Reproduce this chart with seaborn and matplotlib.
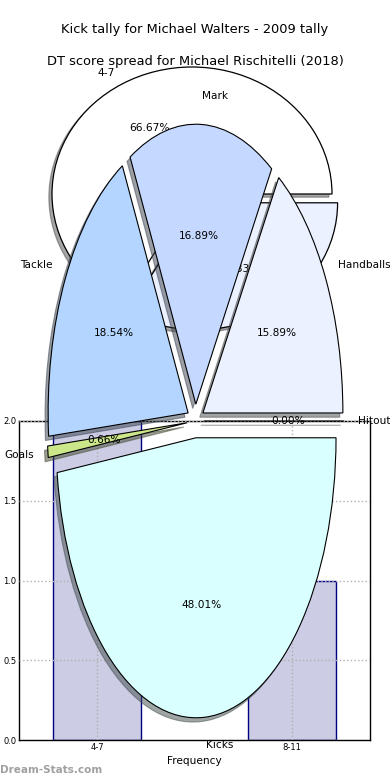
import matplotlib
matplotlib.use('Agg')
import matplotlib.pyplot as plt
import seaborn as sns

# ---- data ----
kick_bins = ['4-7', '8-11']
kick_counts = [2, 1]
kick_pie_colors = ['#FFFFFF', '#EBF1FF']

dt_labels = ['Handballs', 'Mark', 'Tackle', 'Goals', 'Kicks', 'Hitout']
dt_shares = [15.89, 16.89, 18.54, 0.66, 48.01, 0.00]
dt_colors = ['#EBF1FF', '#C5D8FF', '#B3D5FF', '#CCE68A', '#D9FFFF', '#FFFFFF']

title_kick = 'Kick tally for Michael Walters - 2009 tally'
title_dt = 'DT score spread for Michael Rischitelli (2018)'

sns.set_style('white')
plt.rcParams['font.family'] = ['DejaVu Sans']
plt.rcParams['text.color'] = 'black'
plt.rcParams['axes.labelcolor'] = 'black'
plt.rcParams['xtick.color'] = 'black'
plt.rcParams['ytick.color'] = 'black'

W, H = 390, 780
fig = plt.figure(figsize=(W / 100, H / 100), dpi=100)

# ---- bar chart (bottom layer) ----
ax_bar = fig.add_axes([19.3 / W, 40 / H, 350.7 / W, 319 / H])
sns.barplot(x=kick_bins, y=kick_counts, width=0.45, color='#CCCCE5',
            saturation=1, edgecolor='#000080', linewidth=1,
            errorbar=None, ax=ax_bar)
ax_bar.set_xlim(-0.4, 1.4)
ax_bar.set_ylim(0, 2.0)
ax_bar.set_yticks([0.0, 0.5, 1.0, 1.5, 2.0])
ax_bar.set_xlabel('Frequency', fontsize=7.6, labelpad=3)
ax_bar.set_ylabel('')
ax_bar.tick_params(labelsize=6, direction='in', length=2, pad=2)
ax_bar.set_axisbelow(False)
ax_bar.grid(True, linestyle=':', color='#b0b0b0', linewidth=1)
for s in ax_bar.spines.values():
    s.set_color('black')
    s.set_linewidth(1)
    s.set_visible(True)

# ---- kick tally pie ----
ax_k = fig.add_axes([17 / W, (H - 352.75) / H, 350 / W, 317.5 / H])
ax_k.pie(kick_counts, labels=kick_bins, colors=kick_pie_colors,
         explode=(0, 0.08), shadow={'ox': -0.016, 'oy': -0.018},
         autopct='%.2f%%',
         wedgeprops={'edgecolor': 'black', 'linewidth': 0.9},
         textprops={'fontsize': 7.7})
ax_k.set_aspect('auto')
ax_k.set_xlim(-1.25, 1.25)
ax_k.set_ylim(-1.25, 1.25)

# ---- DT score pie ----
ax_d = fig.add_axes([20.5 / W, 9 / H, 350 / W, 700 / H])
ax_d.pie(dt_shares, labels=dt_labels, colors=dt_colors,
         explode=[0.06] * len(dt_shares),
         shadow={'ox': -0.016, 'oy': -0.011}, autopct='%.2f%%',
         labeldistance=1.1,
         wedgeprops={'edgecolor': 'black', 'linewidth': 0.8},
         textprops={'fontsize': 7.6})
ax_d.set_aspect('auto')
ax_d.set_xlim(-1.25, 1.25)
ax_d.set_ylim(-1.25, 1.25)

# ---- titles & watermark ----
fig.text(0.5, 1 - 30 / H, title_kick, ha='center', va='center', fontsize=9.4)
fig.text(0.5, 1 - 61 / H, title_dt, ha='center', va='center', fontsize=9.4)
fig.text(0.0, 10 / H, 'Dream-Stats.com', ha='left', va='center',
         fontsize=7.5, fontweight='bold', color='#A0A0A0')

fig.savefig('out.png', dpi=100)
